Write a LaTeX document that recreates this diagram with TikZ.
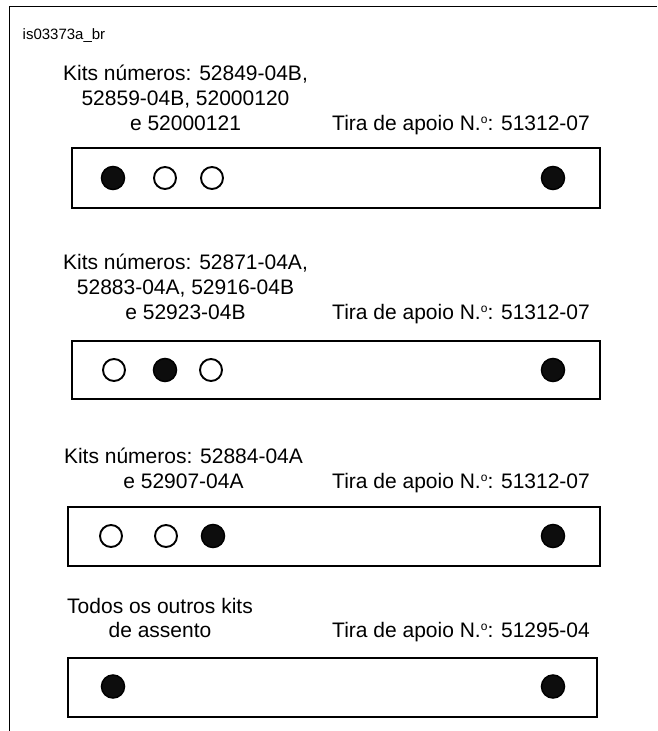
\documentclass[tikz,border=0pt]{standalone}
\usepackage{fontspec}
\setmainfont{Liberation Sans}
\newcommand{\ordo}{\raisebox{0.62ex}{\fontsize{12}{12}\selectfont o}}
\begin{document}
\begin{tikzpicture}[x=1pt,y=-1pt,
  lab/.style={font=\fontsize{21}{25}\selectfont, inner sep=0pt, anchor=base},
  tira/.style={font=\fontsize{21}{25}\selectfont, inner sep=0pt, anchor=base west},
  strip/.style={draw=black, line width=2.6pt, inner sep=0pt},
  hole/.style={circle, draw=black, line width=1.9pt, fill=white, minimum size=22pt, inner sep=0pt},
  pin/.style={circle, draw=black, line width=1.5pt, fill=black!95, minimum size=23pt, inner sep=0pt}]
\useasboundingbox (0,0) rectangle (657,731);
% frame
\coordinate (fbl) at (9.5,731);
\coordinate (ftl) at (9.5,6.5);
\coordinate (ftr) at (657,6.5);
\draw[line width=1.3pt] (fbl) -- (ftl) -- (ftr);
\node[font=\fontsize{15}{18}\selectfont, inner sep=0pt, anchor=base west] (id) at (22.5,39) {is03373a\_br};

% block 1
\node[lab] (t11) at (185.5,80) {Kits números: 52849-04B,};
\node[lab] (t12) at (185.5,105) {52859-04B, 52000120};
\node[lab] (t13) at (185.5,130) {e 52000121};
\node[tira] (r1) at (332,130) {Tira de apoio N.\ordo: 51312-07};
\node[strip, minimum width=528pt, minimum height=60pt] (b1) at (336,178) {};
\node[pin] (d11) at (113,178) {};
\node[hole] (d12) at (165,178) {};
\node[hole] (d13) at (212,178) {};
\node[pin] (d14) at (553,178) {};

% block 2
\node[lab] (t21) at (185.5,269) {Kits números: 52871-04A,};
\node[lab] (t22) at (185.5,294) {52883-04A, 52916-04B};
\node[lab] (t23) at (185.5,319) {e 52923-04B};
\node[tira] (r2) at (332,319) {Tira de apoio N.\ordo: 51312-07};
\node[strip, minimum width=528pt, minimum height=58pt] (b2) at (336,370) {};
\node[hole] (d21) at (114,370) {};
\node[pin] (d22) at (165,370) {};
\node[hole] (d23) at (211,370) {};
\node[pin] (d24) at (553,370) {};

% block 3
\node[lab] (t31) at (183.5,463) {Kits números: 52884-04A};
\node[lab] (t32) at (183.5,488) {e 52907-04A};
\node[tira] (r3) at (332,488) {Tira de apoio N.\ordo: 51312-07};
\node[strip, minimum width=532pt, minimum height=59pt] (b3) at (334,536.5) {};
\node[hole] (d31) at (111,536) {};
\node[hole] (d32) at (166,536) {};
\node[pin] (d33) at (213,536) {};
\node[pin] (d34) at (553,536) {};

% block 4
\node[lab] (t41) at (160,613) {Todos os outros kits};
\node[lab] (t42) at (160,637.5) {de assento};
\node[tira] (r4) at (332,637.5) {Tira de apoio N.\ordo: 51295-04};
\node[strip, minimum width=529pt, minimum height=59pt] (b4) at (332.5,687.5) {};
\node[pin] (d41) at (113,686.5) {};
\node[pin] (d42) at (553,686.5) {};
\end{tikzpicture}
\end{document}
